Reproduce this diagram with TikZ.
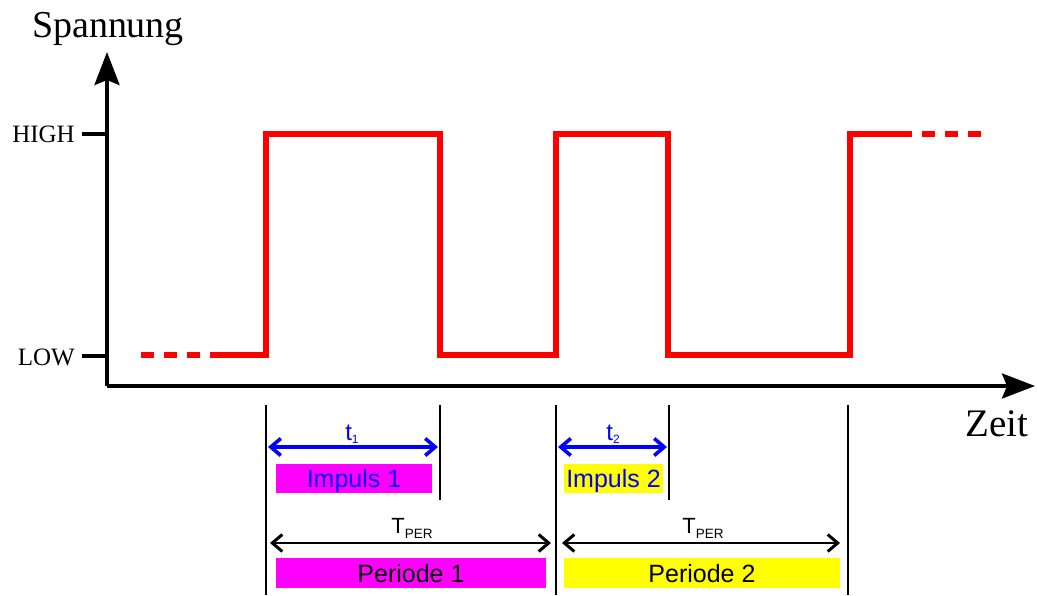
\documentclass[tikz,border=0pt]{standalone}
\usepackage{fontspec}
\setmainfont{Liberation Serif}
\newfontfamily\labelsans{Liberation Sans}
\usetikzlibrary{arrows.meta}

\definecolor{sigred}{RGB}{255,0,0}
\definecolor{boxmag}{RGB}{255,0,255}
\definecolor{boxyel}{RGB}{255,255,0}
\definecolor{pulseblue}{RGB}{0,0,255}

\tikzset{
  axis/.style={line width=3.5pt, line join=miter,
    -{Stealth[length=33pt,width=25pt,inset=5pt]}},
  tick/.style={line width=3.5pt},
  signal/.style={draw=sigred, line width=6pt, line join=miter},
  sigdash/.style={draw=sigred, line width=6pt, dash pattern=on 13pt off 10pt},
  marker/.style={line width=1.4pt},
  pulsearrow/.style={draw=pulseblue, line width=3.2pt,
    {Straight Barb[length=10pt,width=17pt,line width=3.6pt]}-{Straight Barb[length=10pt,width=17pt,line width=3.6pt]}},
  periodarrow/.style={draw=black, line width=2.6pt,
    {Straight Barb[length=10pt,width=17pt,line width=3pt]}-{Straight Barb[length=10pt,width=17pt,line width=3pt]}},
  levellabel/.style={font=\fontsize{25}{25}\selectfont, inner sep=0pt, anchor=base east},
  axislabel/.style={font=\fontsize{38}{38}\selectfont, inner sep=0pt, anchor=base},
  barlabel/.style={font=\labelsans\fontsize{25}{25}\selectfont, inner sep=0pt,
    minimum height=29pt, text depth=0pt},
  durlabel/.style={font=\labelsans\fontsize{24}{24}\selectfont, inner sep=0pt, anchor=base},
}

\begin{document}
\begin{tikzpicture}[x=1pt,y=-1pt]
  \useasboundingbox (0,0) rectangle (1037,595);

  % axes
  \coordinate (origin) at (107,386);
  \coordinate (ytop) at (107,52);
  \coordinate (xend) at (1035,386);
  \draw[axis] (origin) -- (ytop);
  \draw[axis] (origin) -- (xend);
  \node[axislabel] (ylab) at (108,37) {Spannung};
  \node[axislabel, font=\fontsize{39}{39}\selectfont] (xlab) at (997,436) {Zeit};

  % level ticks
  \coordinate (hightick) at (82,134);
  \coordinate (highaxis) at (107,134);
  \coordinate (lowtick) at (82,356);
  \coordinate (lowaxis) at (107,356);
  \draw[tick] (hightick) -- (highaxis);
  \draw[tick] (lowtick) -- (lowaxis);
  \node[levellabel] (high) at (75,142) {HIGH};
  \node[levellabel] (low) at (75,365) {LOW};

  % signal
  \coordinate (s0) at (141,355);
  \coordinate (s1) at (210,355);
  \coordinate (e0) at (912,134);
  \coordinate (e1) at (986,134);
  \draw[sigdash] (s0) -- (s1);
  \draw[signal] (s1) -- (266,355) -- (266,134) -- (440,134) -- (440,355)
    -- (556,355) -- (556,134) -- (668,134) -- (668,355)
    -- (850,355) -- (850,134) -- (e0);
  \draw[sigdash] ([xshift=10pt]e0) -- (e1);

  % time markers
  \foreach \name/\x/\yb in {m1/266/595, m2/440/500, m3/556/595, m4/669/500, m5/848/595} {
    \coordinate (\name top) at (\x,405);
    \coordinate (\name bot) at (\x,\yb);
    \draw[marker] (\name top) -- (\name bot);
  }

  % pulse widths
  \coordinate (p1a) at (268,447);
  \coordinate (p1b) at (438,447);
  \coordinate (p2a) at (558,447);
  \coordinate (p2b) at (667,447);
  \draw[pulsearrow] (p1a) -- (p1b);
  \draw[pulsearrow] (p2a) -- (p2b);
  \node[durlabel, text=pulseblue] (t1) at (352,440)
    {t\raisebox{-3pt}{\fontsize{12}{12}\selectfont 1}};
  \node[durlabel, text=pulseblue] (t2) at (613,440)
    {t\raisebox{-3pt}{\fontsize{12}{12}\selectfont 2}};
  \node[barlabel, fill=boxmag, text=pulseblue, minimum width=156pt] (imp1) at (354,478) {Impuls 1};
  \node[barlabel, fill=boxyel, text=pulseblue, minimum width=99pt] (imp2) at (613.5,478) {Impuls 2};

  % periods
  \coordinate (q1a) at (270,543);
  \coordinate (q1b) at (551,543);
  \coordinate (q2a) at (562,543);
  \coordinate (q2b) at (840,543);
  \draw[periodarrow] (q1a) -- (q1b);
  \draw[periodarrow] (q2a) -- (q2b);
  \node[durlabel, font=\labelsans\fontsize{22}{22}\selectfont] (tper1) at (412,533)
    {T\raisebox{-5pt}{\fontsize{13.5}{13.5}\selectfont PER}};
  \node[durlabel, font=\labelsans\fontsize{22}{22}\selectfont] (tper2) at (703,533)
    {T\raisebox{-5pt}{\fontsize{13.5}{13.5}\selectfont PER}};
  \node[barlabel, fill=boxmag, minimum width=270pt, minimum height=30pt] (per1) at (411,573) {Periode 1};
  \node[barlabel, fill=boxyel, minimum width=276pt, minimum height=30pt] (per2) at (702,573) {Periode 2};
\end{tikzpicture}
\end{document}
